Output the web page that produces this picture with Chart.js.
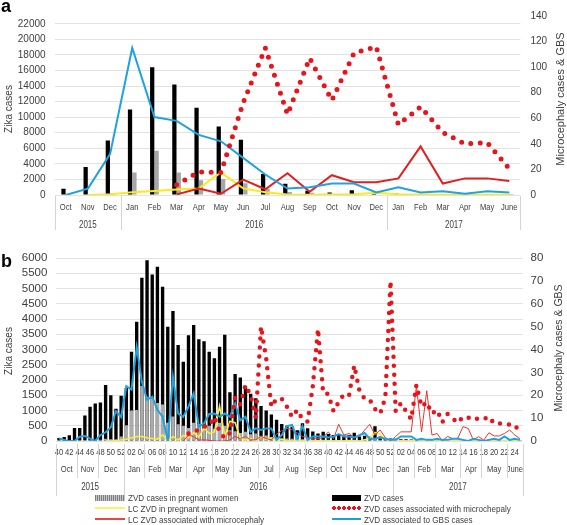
<!DOCTYPE html>
<html>
<head>
<meta charset="utf-8">
<script src="https://cdn.jsdelivr.net/npm/chart.js@4.4.1/dist/chart.umd.min.js"></script>
<style>
  body { margin: 0; background: #fff; }
  #page { position: relative; width: 567px; height: 525px; overflow: hidden; background: #fff; }
  canvas { position: absolute; left: 0; }
  .tag { position: absolute; font: bold 18px/18px 'Liberation Sans', Arial, sans-serif; color: #000; }
  .ytitle { position: absolute; white-space: nowrap; color: #404040; font-family: 'Liberation Sans', Arial, sans-serif;
            transform: translate(-50%, -50%) rotate(-90deg); }
  .leg { position: absolute; white-space: nowrap; color: #404040; line-height: 11px;
         font: 9.5px/11px 'Liberation Sans', Arial, sans-serif;
         transform: scaleX(0.85); transform-origin: 0 0; }
  .sym { position: absolute; }
</style>
</head>
<body>
<div id="page">
  <canvas id="chartA" width="567" height="240" style="top:0"></canvas>
  <canvas id="chartB" width="567" height="260" style="top:240px"></canvas>

  <div class="tag" style="left:1px;top:-3px">a</div>
  <div class="tag" style="left:1px;top:252px">b</div>

  <div class="ytitle" style="left:8px;top:109px;font-size:10px">Zika cases</div>
  <div class="ytitle" style="left:560px;top:99px;font-size:11px">Microcephaly cases &amp; GBS</div>
  <div class="ytitle" style="left:8px;top:351px;font-size:10px">Zika cases</div>
  <div class="ytitle" style="left:558px;top:348px;font-size:10.5px">Microcephaly cases &amp; GBS</div>

  <!-- legend, panel b -->
  <div class="sym" style="left:95px;top:495px;width:30px;height:6px;background:repeating-linear-gradient(90deg,#7f7f7f 0 1px,#c4c4c4 1px 2px)"></div>
  <div class="leg" style="left:128px;top:492px">ZVD cases in pregnant women</div>
  <div class="sym" style="left:95px;top:507px;width:30px;height:2px;background:#fff06a"></div>
  <div class="leg" style="left:128px;top:503px">LC ZVD in pregnant women</div>
  <div class="sym" style="left:95px;top:518px;width:30px;height:1.5px;background:#e84545"></div>
  <div class="leg" style="left:128px;top:513.5px">LC ZVD associated with microcephaly</div>

  <div class="sym" style="left:332px;top:495px;width:29px;height:6px;background:#000"></div>
  <div class="leg" style="left:364px;top:492px">ZVD cases</div>
  <div class="sym" style="left:332px;top:506px;width:29px;height:4px;background:radial-gradient(circle at 2px 2px,#e5141b 1.6px,transparent 2px) 0 0/5px 4px repeat-x"></div>
  <div class="leg" style="left:364px;top:503px">ZVD cases associated with microchepaly</div>
  <div class="sym" style="left:332px;top:518px;width:29px;height:2px;background:#1e9fdb"></div>
  <div class="leg" style="left:364px;top:513.5px">ZVD associated to GBS cases</div>
</div>

<script>
// ---------- panel a : monthly, Oct 2015 - June 2017 ----------
const monthsA = ['Oct','Nov','Dec','Jan','Feb','Mar','Apr','May','Jun','Jul','Aug','Sep',
                 'Oct','Nov','Dec','Jan','Feb','Mar','Apr','May','June'];
const yearsA = ['2015', '2016', '2017'];
const yearSpanA = [3, 12, 6];
const leftTicksA = [0, 2000, 4000, 6000, 8000, 10000, 12000, 14000, 16000, 18000, 20000, 22000];

// left axis (Zika cases)
const zvdCasesA  = [800, 3600, 7000, 11000, 16400, 14200, 11200, 8800, 7100, 2700, 1450, 550,
                    330, 620, 300, 200, 50, 50, 20, 20, 10];
const pregWomenA = [50, 100, 200, 2900, 5700, 2900, 1900, 2050, 1500, 800, 400, 300,
                    100, 100, 50, 30, 20, 20, 10, 10, 5];
const lcPregA    = [null, 0, 100, 350, 500, 700, 850, 2900, 850, 350, 80, 20,
                    50, 100, 300, 100, 50, 20, 20, 20, 20];
// right axis (microcephaly & GBS)
const lcMicroA   = [null, null, null, null, null, 0.5, 5, 1, 12, 4.5, 17, 2.5,
                    15.5, 10, 10, 13, 38, 9, 13, 13, 11];
const microA     = [null, null, null, null, null, 8, 18, 17.5, 72, 115, 63, 107,
                    74, 111, 116, 55, 69, 49, 40, 41, 20.5];
const gbsA       = [0, 5, 32, 115, 61, 58, 47, 42, 29, 16, 5, 6,
                    9, 9, 2, 6, 2, 3, 1, 3, 2];

// ---------- panel b : weekly, 2015 w40 - 2017 w25 ----------
const weekLabelsB = [
  '40','41','42','43','44','45','46','47','48','49','50','51','52',
  '01','02','03','04','05','06','07','08','09','10','11','12','13','14','15','16','17','18','19','20',
  '21','22','23','24','25','26','27','28','29','30','31','32','33','34','35','36','37','38','39','40',
  '41','42','43','44','45','46','47','48','49','50','51','52',
  '01','02','03','04','05','06','07','08','09','10','11','12','13','14','15','16','17','18','19','20',
  '21','22','23','24','25'
];
const monthsB = ['Oct','Nov','Dec','Jan','Feb','Mar','Apr','May','Jun','Jul','Aug','Sep',
                 'Oct','Nov','Dec','Jan','Feb','Mar','Apr','May','June'];
const monthSpanB = [4, 4, 5, 4, 4, 4, 5, 4, 5, 4, 5, 4, 4, 5, 4, 4, 4, 5, 4, 5, 3];
const yearsB = ['2015', '2016', '2017'];
const yearSpanB = [13, 52, 25];
const leftTicksB = [0, 500, 1000, 1500, 2000, 2500, 3000, 3500, 4000, 4500, 5000, 5500, 6000];

// left axis (Zika cases)
const zvdCasesB = [
  100, 130, 190, 430, 430, 840, 1120, 1230, 1260, 1840,
  1500, 1060, 1480, 1740, 2930, 3910, 5350, 5930, 5460, 5710,
  5060, 3750, 4260, 3150, 2600, 3470, 3800, 3340, 3270, 2930,
  2710, 3090, 3480, 1600, 2200, 2080, 1800, 1550, 1400, 1150,
  1000, 870, 700, 560, 500, 470, 350, 580, 420, 310,
  250, 300, 230, 200, 220, 180, 200, 270, 150, 170,
  140, 480, 150, 100, 80, 70, 60, 60, 50, 40,
  40, 30, 30, 30, 25, 20, 20, 20, 15, 15,
  15, 10, 10, 10, 10, 10, 10, 5, 5, 5
];
const pregWomenB = [
  0, 0, 0, 0, 0, 10, 20, 30, 40, 70,
  60, 50, 150, 520, 1000, 1020, 1800, 1450, 1400, 1250,
  1200, 600, 800, 550, 500, 430, 600, 560, 420, 500,
  400, 600, 500, 350, 320, 260, 300, 220, 250, 160,
  180, 130, 110, 90, 80, 70, 90, 60, 70, 50,
  40, 40, 30, 30, 30, 25, 30, 40, 20, 25,
  20, 100, 30, 20, 10, 10, 10, 10, 5, 5,
  5, 5, 5, 5, 5, 5, 5, 0, 0, 0,
  0, 0, 0, 0, 0, 0, 0, 0, 0, 0
];
const lcPregB = [
  null, null, null, null, null, null, null, null, null, 0,
  0, 20, 30, 60, 110, 150, 150, 110, 80, 60,
  200, 0, 150, 30, 180, 100, 280, 130, 420, 250,
  300, 1150, 150, 650, 600, 100, 30, 80, 0, 150,
  40, 100, 20, 60, 10, 0, 20, 0, 30, 0,
  10, 0, 20, 0, 10, 0, 20, 10, 0, 40,
  80, 280, 220, 60, 10, 0, 10, 0, 10, 0,
  0, 10, 0, 0, 10, 0, 0, 10, 0, 0,
  10, 0, 0, 0, 10, 0, 0, 0, 10, 0
];
// right axis (microcephaly & GBS)
const gbsB = [
  1.2, 0.4, 0, 0, 1.9, 2.2, 1, 0, 2.6, 3.8,
  6, 13, 10.5, 24, 22.5, 41, 26, 18, 19.4, 13.5,
  10.6, 0, 28, 12, 10.6, 15, 20.8, 6.3, 7.7, 11.8,
  12, 10.6, 12, 10.6, 16.4, 9, 10.6, 4, 5.5, 4.8,
  5.5, 5.5, 0.5, 2.6, 6.5, 7, 1, 6.5, 0.5, 2,
  2, 2, 1.5, 2, 3, 2, 2, 1.5, 2.5, 3.5,
  1, 1, 1.5, 1, 0.5, 0.5, 2, 2, 2, 0.5,
  1, 0.5, 0.5, 1, 0.5, 0.5, 1, 1, 0.5, 0,
  1, 0.5, 0, 0.5, 1, 0.5, 2, 0.5, 1, 0.5
];
const microB = [
  null, null, null, null, null, null, null, null, null, null,
  null, null, null, null, null, null, null, null, null, null,
  null, null, null, null, null, 3.3, 4, 5, 6.3, 6.7,
  10.5, 4, 1.2, 3.5, 19, 16, 24.5, 20, 10, 50,
  36, 15, 18.5, 18.5, 15, 10.5, 13.5, 9.5, 8.5, 24,
  49, 21, 20.5, 13, 17, 20.5, 20, 33, 22, 18.5,
  18, 14, 12, 19, 70, 13, 16.5, 13, 9.5, 24.5,
  15, 17, 12, 13.5, 8.2, 11.8, 9.9, 8, 10.6, 10.3,
  9.2, 9.9, 9.5, 10.6, 7.7, 7.7, 7.4, 7.2, 7, 3.5
];
const lcMicroB = [
  null, null, null, null, null, null, null, null, null, null,
  null, null, null, null, null, null, null, null, null, null,
  null, null, null, null, 0, 2.6, 1.9, 0.4, 0.5, 0.3,
  0, 0, 0, 0.5, 2, 1, 2, 0.5, 0.5, 2,
  1, 0.5, 3, 4.5, 5.5, 5, 3.5, 2, 1.5, 1,
  1, 1.5, 4, 1, 7.3, 2.6, 3.3, 1.5, 2, 4.8,
  7.3, 2.6, 4.8, 1.5, 0, 2, 4, 4, 4, 24,
  4, 22, 2.6, 3.3, 0, 2, 1, 1.2, 6.3, 5.5,
  0.4, 1.9, 0.4, 3.6, 2.2, 2.2, 3.3, 4.8, 2.6, 1
];

const SANS = "'Liberation Sans', Arial, sans-serif";
const TXT = '#404040';
const GRID = '#e2e2e2';

// condensed text, the category labels in the original are narrow
function narrowText(ctx, text, x, y, squeeze) {
  ctx.save();
  ctx.translate(x, y);
  ctx.scale(squeeze, 1);
  ctx.fillText(text, 0, 0);
  ctx.restore();
}

// draws the category labels and the grouped rows (months / years) under the x axis
const groupRows = {
  id: 'groupRows',
  afterDraw(chart, args, opts) {
    const xs = chart.scales.x;
    const ctx = chart.ctx;
    const half = (xs.getPixelForValue(1) - xs.getPixelForValue(0)) / 2;
    const base = chart.chartArea.bottom;
    ctx.save();
    ctx.lineWidth = 1;
    ctx.strokeStyle = '#d4d4d4';
    ctx.fillStyle = TXT;
    ctx.textAlign = 'center';
    ctx.textBaseline = 'middle';
    opts.rows.forEach(row => {
      ctx.font = row.font;
      if (row.labels) {
        row.labels.forEach((lab, i) => {
          if (row.show && !row.show(lab)) return;
          narrowText(ctx, lab, xs.getPixelForValue(i), base + row.textY, row.squeeze);
        });
        return;
      }
      let start = 0;
      row.names.forEach((name, k) => {
        const end = start + row.spans[k];
        const left = xs.getPixelForValue(start) - half;
        const right = xs.getPixelForValue(end - 1) + half;
        narrowText(ctx, name, (left + right) / 2, base + row.textY, row.squeeze);
        [left, right].forEach(px => {
          const sx = Math.round(px) + 0.5;
          ctx.beginPath();
          ctx.moveTo(sx, base + row.lineFrom);
          ctx.lineTo(sx, base + row.lineTo);
          ctx.stroke();
        });
        start = end;
      });
    });
    ctx.restore();
  }
};

// ---------- chart a ----------
new Chart(document.getElementById('chartA'), {
  data: {
    labels: monthsA,
    datasets: [
      { type: 'line', label: 'ZVD cases associated with microchepaly', data: microA, yAxisID: 'y1',
        borderColor: '#e8141c', borderWidth: 5, borderDash: [0, 9.5], borderCapStyle: 'round',
        pointRadius: 0, order: 0 },
      { type: 'line', label: 'ZVD associated to GBS cases', data: gbsA, yAxisID: 'y1',
        borderColor: '#1fa2dd', borderWidth: 2, pointRadius: 0, order: 1 },
      { type: 'line', label: 'LC ZVD associated with microcephaly', data: lcMicroA, yAxisID: 'y1',
        borderColor: '#e0201e', borderWidth: 2, pointRadius: 0, order: 2 },
      { type: 'line', label: 'LC ZVD in pregnant women', data: lcPregA, yAxisID: 'y',
        borderColor: '#f9ea1a', borderWidth: 2, pointRadius: 0, order: 3 },
      { type: 'bar', label: 'ZVD cases', data: zvdCasesA, yAxisID: 'y',
        backgroundColor: '#000', categoryPercentage: 0.4, barPercentage: 0.96, order: 5 },
      { type: 'bar', label: 'ZVD cases in pregnant women', data: pregWomenA, yAxisID: 'y',
        backgroundColor: '#a6a6a6', categoryPercentage: 0.4, barPercentage: 0.96, order: 5 }
    ]
  },
  options: {
    responsive: false,
    animation: false,
    events: [],
    layout: { padding: { top: 8.3, left: 0, right: 0, bottom: 0 } },
    plugins: {
      legend: { display: false },
      tooltip: { enabled: false },
      groupRows: {
        rows: [
          { labels: monthsA, textY: 12.5, font: '9.5px ' + SANS, squeeze: 0.8 },
          { names: yearsA, spans: yearSpanA, textY: 30, lineFrom: 1, lineTo: 35, font: '10px ' + SANS, squeeze: 0.8 }
        ]
      }
    },
    scales: {
      x: {
        grid: { display: false, drawTicks: false },
        border: { display: false },
        ticks: { display: false },
        afterFit: s => { s.height = 45; }
      },
      y: {
        position: 'left', min: 0, max: 23000,
        afterBuildTicks: s => { s.ticks = leftTicksA.map(v => ({ value: v })); },
        ticks: { autoSkip: false, padding: 9, color: TXT, font: { family: SANS, size: 10 }, callback: v => String(v) },
        grid: { color: GRID, drawTicks: false },
        border: { display: false },
        afterFit: s => { s.width = 54.6; }
      },
      y1: {
        position: 'right', min: 0, max: 140,
        ticks: { autoSkip: false, stepSize: 20, padding: 10, color: TXT, font: { family: SANS, size: 10 }, callback: v => String(v) },
        grid: { drawOnChartArea: false, drawTicks: false },
        border: { display: false },
        afterFit: s => { s.width = 46.6; }
      }
    }
  },
  plugins: [groupRows]
});

// ---------- chart b ----------
new Chart(document.getElementById('chartB'), {
  data: {
    labels: weekLabelsB,
    datasets: [
      { type: 'line', label: 'ZVD cases associated with microchepaly', data: microB, yAxisID: 'y1',
        borderColor: '#e8141c', borderWidth: 4.5, borderDash: [0, 9], borderCapStyle: 'round',
        pointRadius: 0, order: 0 },
      { type: 'line', label: 'ZVD associated to GBS cases', data: gbsB, yAxisID: 'y1',
        borderColor: '#1fa2dd', borderWidth: 2, pointRadius: 0, order: 1 },
      { type: 'line', label: 'LC ZVD associated with microcephaly', data: lcMicroB, yAxisID: 'y1',
        borderColor: '#e8362f', borderWidth: 1, pointRadius: 0, order: 2 },
      { type: 'line', label: 'LC ZVD in pregnant women', data: lcPregB, yAxisID: 'y',
        borderColor: '#fbec3c', borderWidth: 1.5, pointRadius: 0, order: 3 },
      { type: 'bar', label: 'ZVD cases in pregnant women', data: pregWomenB, yAxisID: 'y',
        backgroundColor: '#ababab', grouped: false, categoryPercentage: 0.65, barPercentage: 1, order: 4 },
      { type: 'bar', label: 'ZVD cases', data: zvdCasesB, yAxisID: 'y',
        backgroundColor: '#000', grouped: false, categoryPercentage: 0.65, barPercentage: 1, order: 5 }
    ]
  },
  options: {
    responsive: false,
    animation: false,
    events: [],
    layout: { padding: { top: 18, left: 0, right: 0, bottom: 0 } },
    plugins: {
      legend: { display: false },
      tooltip: { enabled: false },
      groupRows: {
        rows: [
          { labels: weekLabelsB, show: lab => Number(lab) % 2 === 0, textY: 11.5, font: '9.5px ' + SANS, squeeze: 0.8 },
          { names: monthsB, spans: monthSpanB, textY: 28.5, lineFrom: 3, lineTo: 37, font: '9.5px ' + SANS, squeeze: 0.8 },
          { names: yearsB, spans: yearSpanB, textY: 46.5, lineFrom: 3, lineTo: 55, font: '10px ' + SANS, squeeze: 0.8 }
        ]
      }
    },
    scales: {
      x: {
        grid: { display: false, drawTicks: false },
        border: { display: false },
        ticks: { display: false },
        afterFit: s => { s.height = 59; }
      },
      y: {
        position: 'left', min: 0, max: 6000,
        afterBuildTicks: s => { s.ticks = leftTicksB.map(v => ({ value: v })); },
        ticks: { autoSkip: false, padding: 9, color: TXT, font: { family: SANS, size: 11.5 }, callback: v => String(v) },
        grid: { color: GRID, drawTicks: false },
        border: { display: false },
        afterFit: s => { s.width = 56.4; }
      },
      y1: {
        position: 'right', min: 0, max: 80,
        ticks: { autoSkip: false, stepSize: 10, padding: 8, color: TXT, font: { family: SANS, size: 11.5 }, callback: v => String(v) },
        grid: { drawOnChartArea: false, drawTicks: false },
        border: { display: false },
        afterFit: s => { s.width = 44.4; }
      }
    }
  },
  plugins: [groupRows]
});
</script>
</body>
</html>
